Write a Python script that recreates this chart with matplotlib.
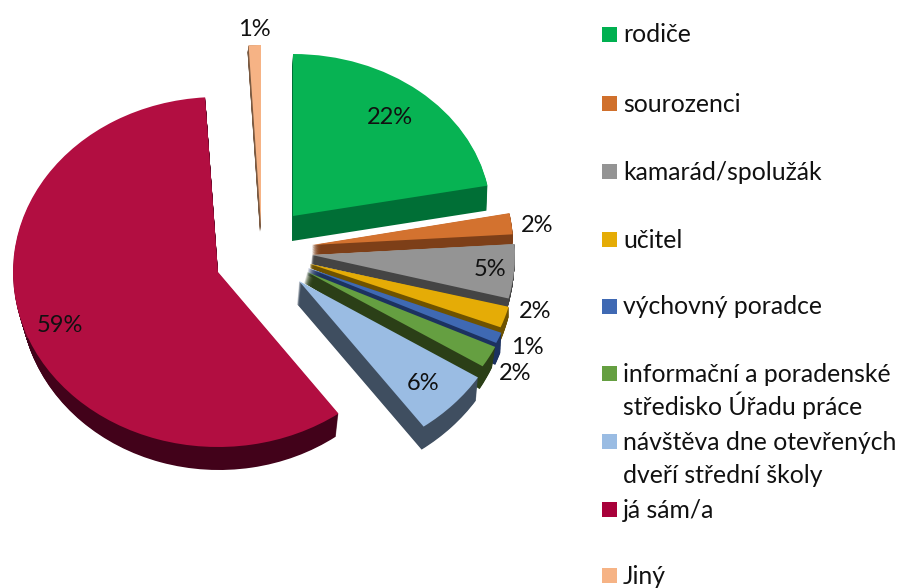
# -*- coding:utf-8 -*-
import matplotlib
matplotlib.use('Agg')
import numpy as np
import matplotlib.pyplot as plt
from matplotlib.patches import Rectangle
from matplotlib.transforms import Affine2D

plt.rcParams['font.family'] = ['Lato', 'DejaVu Sans']

W, H = 898, 588

# data
categories = ['rodiče', 'sourozenci', 'kamarád/spolužák', 'učitel', 'výchovný poradce',
              'informační a poradenské\nstředisko Úřadu práce',
              'návštěva dne otevřených\ndveří střední školy', 'já sám/a', 'Jiný']
values = [22, 2, 5, 2, 1, 2, 6, 59, 1]

# colours
top_colors = ['#07b353', '#d3722f', '#949494', '#e5ac06', '#3f69b3', '#659f41', '#9abce3', '#b20e41', '#f6b385']
wall_colors = ['#006f36', '#7d3f18', '#444444', '#6e5200', '#1c3260', '#2b3f17', '#3f4e60', '#42021a', '#7a5a42']
legend_colors = ['#00b050', '#d0702c', '#949494', '#e5ac06', '#3f69b3', '#659f41', '#9abce3', '#a8003a', '#f6b385']

# every slice has its own place on the fake 3d view (pixels: apex x, apex y, rx, ry, wall dx, wall dy)
apex_x = [293, 312, 312, 310, 308, 307, 299, 218, 261]
apex_y = [216, 245, 255, 264, 268, 272, 281, 272, 225]
rad_x = [198, 201, 203, 205, 208, 208, 212, 205, 198]
rad_y = [162, 170, 175, 172, 176, 176, 180, 175, 180]
wall_dx = [-1, 0, -1, 0, -1, -3, -2, 1, -1]
wall_dy = [25, 10, 9, 4, 7, 11, 23, 23, 7]
# bottom edge of the wall is not the same size as the top
wall_sx = [1, 1, 1, 1, 1, 1, 1, 0.97, 1]
wall_sy = [1, 1, 1, 1.15, 1.2, 1.125, 1, 1, 1]

label_x = [390, 537, 490, 535, 527, 515, 423, 60, 254]
label_y = [118, 226, 269, 311, 347, 373, 384, 325, 30]

legend_y = [34, 103, 171, 239, 306, 373.5, 441.5, 509, 575]

fig = plt.figure(figsize=(W / 100, H / 100), dpi=100)
ax = fig.add_axes([0, 0, 1, 1])


def place(wedges, shift, zbase):
    for i, w in enumerate(wedges):
        sx = rad_x[i] * (1 + (wall_sx[i] - 1) * shift)
        sy = rad_y[i] * (1 + (wall_sy[i] - 1) * shift)
        tr = Affine2D().scale(sx, sy).translate(apex_x[i] + wall_dx[i] * shift,
                                                H - apex_y[i] - wall_dy[i] * shift)
        w.set_transform(tr + ax.transData)
        w.set_zorder(i + zbase)


# wall: the same pie again and again, going down
n_layers = 26
for k in range(n_layers, 0, -1):
    wedges, _ = ax.pie(values, colors=wall_colors, startangle=90, counterclock=False,
                       wedgeprops={'linewidth': 0})
    place(wedges, k / n_layers, 2 + 0.4 * (n_layers - k) / n_layers)
    if k == n_layers:
        big_bottom = wedges[7]

wedges, _ = ax.pie(values, colors=top_colors, startangle=90, counterclock=False,
                   wedgeprops={'linewidth': 0})
place(wedges, 0, 2.5)

# left part of the big wall is lighter
shade = np.zeros((1, 200, 4))
shade[0, :, :3] = matplotlib.colors.to_rgb('#7a0e33')
shade[0, :, 3] = np.linspace(0.75, 0, 200)
im = ax.imshow(shade, extent=(12, 212, 250, 588), aspect='auto', zorder=9.45)
im.set_clip_path(big_bottom)

ax.set_aspect('auto')
ax.set_xlim(0, W)
ax.set_ylim(0, H)
ax.axis('off')

for v, x, y in zip(values, label_x, label_y):
    ax.text(x, H - y, '%d%%' % v, fontsize=17, color='#111111', ha='center', va='center', zorder=20)

for name, col, y in zip(categories, legend_colors, legend_y):
    ax.add_patch(Rectangle((602, H - y - 7.5), 15, 15, facecolor=col, linewidth=0, zorder=20))
    for j, line in enumerate(name.split('\n')):
        ax.text(623, H - y - 8.5 - 33 * j, line, fontsize=17.8, color='#111111', ha='left', va='baseline', zorder=20)

plt.savefig('out.png', dpi=100)
